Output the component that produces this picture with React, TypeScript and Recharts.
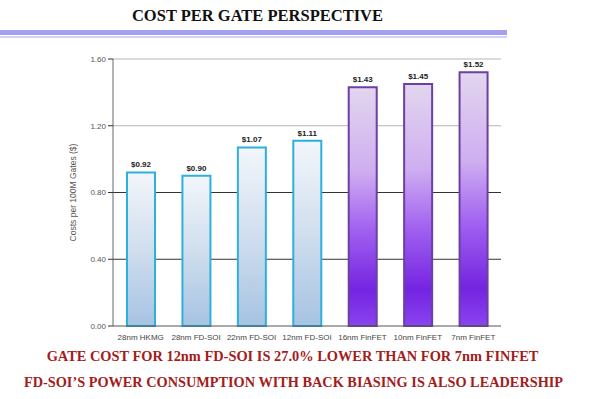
import { Bar, BarChart, CartesianGrid, Cell, LabelList, XAxis, YAxis } from "recharts";

const nodes = [
  "28nm HKMG",
  "28nm FD-SOI",
  "22nm FD-SOI",
  "12nm FD-SOI",
  "16nm FinFET",
  "10nm FinFET",
  "7nm FinFET",
];
const costs = [0.92, 0.9, 1.07, 1.11, 1.43, 1.45, 1.52];
const isFinFet = [false, false, false, false, true, true, true];
const yTicks = [0, 0.4, 0.8, 1.2, 1.6];

const data = nodes.map((name, i) => ({ name, value: costs[i], fin: isFinFet[i] }));

const serif = "'Liberation Serif', 'Times New Roman', serif";
const sans = "'Liberation Sans', Arial, sans-serif";

export default function App() {
  return (
    <div
      style={{
        position: "absolute",
        left: 0,
        top: 0,
        width: 599,
        height: 399,
        background: "#fff",
        overflow: "hidden",
      }}
    >
      <div
        style={{
          position: "absolute",
          left: 0,
          width: 515,
          top: 6,
          textAlign: "center",
          fontFamily: serif,
          fontWeight: "bold",
          fontSize: 16.5,
          color: "#111",
        }}
      >
        COST PER GATE PERSPECTIVE
      </div>
      <div style={{ position: "absolute", left: 0, top: 30, width: 507, height: 5, background: "#a3a1ef" }} />
      <div style={{ position: "absolute", left: 0, top: 36, width: 507, height: 2, background: "#d2d1f6" }} />

      <div style={{ position: "absolute", left: 0, top: 0 }}>
        <BarChart
          width={599}
          height={399}
          data={data}
          margin={{ top: 59, right: 98, left: 73, bottom: 43 }}
        >
          <defs>
            <linearGradient id="blueFill" x1="0" y1="0" x2="0" y2="1">
              <stop offset="0%" stopColor="#f3f6fb" />
              <stop offset="50%" stopColor="#d0deee" />
              <stop offset="100%" stopColor="#a6c3e3" />
            </linearGradient>
            <linearGradient id="purpleFill" x1="0" y1="0" x2="0" y2="1">
              <stop offset="0%" stopColor="#e2d6ef" />
              <stop offset="35%" stopColor="#cfaef0" />
              <stop offset="60%" stopColor="#a060f0" />
              <stop offset="85%" stopColor="#7424e0" />
              <stop offset="100%" stopColor="#8a44f0" />
            </linearGradient>
          </defs>
          <CartesianGrid yAxisId="left" vertical={false} horizontalValues={[0.4, 0.8]} stroke="#333" strokeWidth={1} />
          <CartesianGrid yAxisId="left" vertical={false} horizontalValues={[1.2, 1.6]} stroke="#b5b5b5" strokeWidth={1} />
          <XAxis
            dataKey="name"
            interval={0}
            height={30}
            tickLine={false}
            axisLine={{ stroke: "#555" }}
            tick={{ fontSize: 8, fill: "#444", fontFamily: sans }}
            tickMargin={2}
          />
          <YAxis
            yAxisId="left"
            domain={[0, 1.6]}
            ticks={yTicks}
            width={40}
            tickSize={5}
            tickLine={{ stroke: "#333" }}
            axisLine={{ stroke: "#666" }}
            tick={{ fontSize: 8, fill: "#555", fontFamily: sans }}
            tickFormatter={(v: number) => v.toFixed(2)}
            label={{
              value: "Costs per 100M Gates ($)",
              angle: -90,
              position: "insideLeft",
              offset: 0,
              style: { fontSize: 8.5, fill: "#555", fontFamily: sans, textAnchor: "middle" },
            }}
          />
          <YAxis
            yAxisId="right"
            orientation="right"
            domain={[0, 1.6]}
            width={0}
            tick={false}
            tickLine={false}
            axisLine={{ stroke: "#b5b5b5" }}
          />
          <Bar yAxisId="left" dataKey="value" barSize={28} strokeWidth={2} isAnimationActive={false}>
            {data.map((d) => (
              <Cell
                key={d.name}
                fill={d.fin ? "url(#purpleFill)" : "url(#blueFill)"}
                stroke={d.fin ? "#6c3fa3" : "#2eb0dc"}
              />
            ))}
            <LabelList
              dataKey="value"
              position="top"
              offset={5}
              formatter={(v: number) => `$${v.toFixed(2)}`}
              style={{ fontSize: 8, fontWeight: "bold", fill: "#222", fontFamily: sans }}
            />
          </Bar>
        </BarChart>
      </div>

      <div
        style={{
          position: "absolute",
          left: 0,
          width: 585,
          top: 348,
          textAlign: "center",
          fontFamily: serif,
          fontWeight: "bold",
          fontSize: 14.4,
          color: "#a41c1c",
          whiteSpace: "nowrap",
        }}
      >
        GATE COST FOR 12nm FD-SOI IS 27.0% LOWER THAN FOR 7nm FINFET
      </div>
      <div
        style={{
          position: "absolute",
          left: 0,
          width: 587,
          top: 374,
          textAlign: "center",
          fontFamily: serif,
          fontWeight: "bold",
          fontSize: 14.3,
          color: "#a41c1c",
          whiteSpace: "nowrap",
        }}
      >
        FD-SOI’S POWER CONSUMPTION WITH BACK BIASING IS ALSO LEADERSHIP
      </div>
    </div>
  );
}
